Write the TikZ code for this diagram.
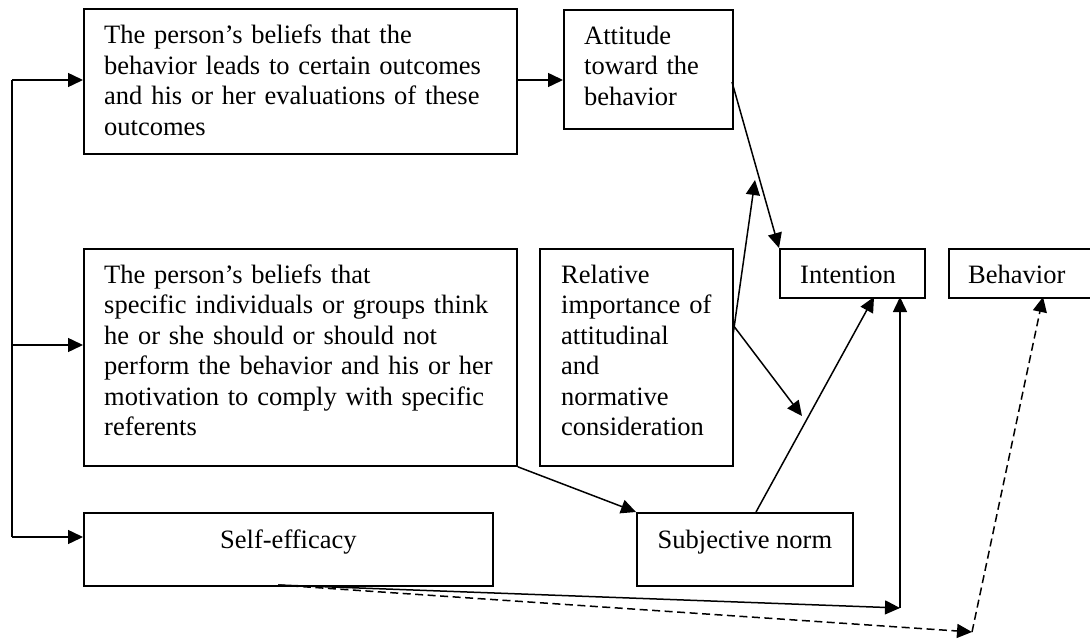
\documentclass[tikz,border=0pt]{standalone}
\usepackage{fontspec}
\setmainfont{Liberation Serif}
\usetikzlibrary{arrows.meta,calc}
\begin{document}
\begin{tikzpicture}[x=1pt,y=-1pt,
  box/.style={draw,line width=1.8pt,rectangle,inner sep=0pt,anchor=north west},
  txt/.style={anchor=base west,inner sep=0pt,align=left,text width=#1,
    font=\fontsize{26.5pt}{30.5pt}\selectfont},
  txt/.default=400pt,
  ctxt/.style={anchor=base,inner sep=0pt,font=\fontsize{26.5pt}{30.5pt}\selectfont},
  arr/.style={-{Triangle[length=15pt,width=14pt]},line width=1.5pt},
  plain/.style={line width=1.5pt},
  dsh/.style={arr,dash pattern=on 8pt off 4.5pt}
]
\useasboundingbox (0,0) rectangle (1090,639);

% boxes
\node[box,minimum width=433pt,minimum height=144.5pt] (b1) at (83,8.5) {};
\node[box,minimum width=169pt,minimum height=119pt] (att) at (563,9) {};
\node[box,minimum width=433pt,minimum height=217pt] (b2) at (83,248) {};
\node[box,minimum width=193pt,minimum height=217pt] (rel) at (539,248) {};
\node[box,minimum width=145pt,minimum height=49pt] (int) at (779,248) {};
\node[box,minimum width=160pt,minimum height=49pt] (beh) at (948,248) {};
\node[box,minimum width=409pt,minimum height=73pt] (se) at (83,512) {};
\node[box,minimum width=216pt,minimum height=73pt] (sn) at (636,512) {};

% texts
\node[txt=420pt] (tb1) at ($(b1.north west)+(21,35.5)$)
  {The person’s beliefs that the\\behavior leads to certain outcomes\\and his or her evaluations of these\\outcomes};
\node[txt=160pt] (tatt) at ($(att.north west)+(21,35.5)$)
  {Attitude\\toward the\\behavior};
\node[txt=420pt] (tb2) at ($(b2.north west)+(21,35.5)$)
  {The person’s beliefs that\\specific individuals or groups think\\he or she should or should not\\perform the behavior and his or her\\motivation to comply with specific\\referents};
\node[txt=180pt] (trel) at ($(rel.north west)+(22,35.5)$)
  {Relative\\importance of\\attitudinal\\and\\normative\\consideration};
\node[txt=130pt] (tint) at ($(int.north west)+(21,35.5)$) {Intention};
\node[txt=130pt] (tbeh) at ($(beh.north west)+(20,35.5)$) {Behavior};
\node[ctxt] (tse) at ($(se.north)+(0,36)$) {Self-efficacy};
\node[ctxt] (tsn) at ($(sn.north)+(0,36)$) {Subjective norm};

% feedback line on the left
\coordinate (fA) at (12,80);
\coordinate (fB) at (12,345);
\coordinate (fC) at (12,537);
\draw[plain] (fA) -- (fC);
\draw[arr] (fA) -- (fA -| b1.west);
\draw[arr] (fB) -- (fB -| b2.west);
\draw[arr] (fC) -- (fC -| se.west);

% beliefs -> attitude
\draw[arr] (b1.east |- fA) -- (att.west |- fA);

% attitude -> intention
\coordinate (attOut) at (732,82);
\draw[arr] (attOut) -- (int.north west);

% relative importance arrows
\coordinate (relA) at (733,335);
\coordinate (relAend) at (755,180);
\coordinate (relB) at (733,325);
\coordinate (relBend) at (802,416);
\draw[arr] (relA) -- (relAend);
\draw[arr] (relB) -- (relBend);

% normative beliefs -> subjective norm
\draw[arr] (b2.south east) -- (sn.north west);

% subjective norm -> intention
\coordinate (snOut) at (756,512);
\coordinate (intIn) at (874,297);
\draw[arr] (snOut) -- (intIn);

% self-efficacy -> intention (solid)
\coordinate (seOut) at (278,585);
\coordinate (cS) at (900,608);
\coordinate (intIn2) at (900,297);
\draw[arr] (seOut) -- (cS);
\draw[arr] (cS) -- (intIn2);

% self-efficacy -> behavior (dashed)
\coordinate (cD) at (972,632);
\coordinate (behIn) at (1043,297);
\draw[dsh] (seOut) -- (cD);
\draw[dsh] (cD) -- (behIn);
\end{tikzpicture}
\end{document}
